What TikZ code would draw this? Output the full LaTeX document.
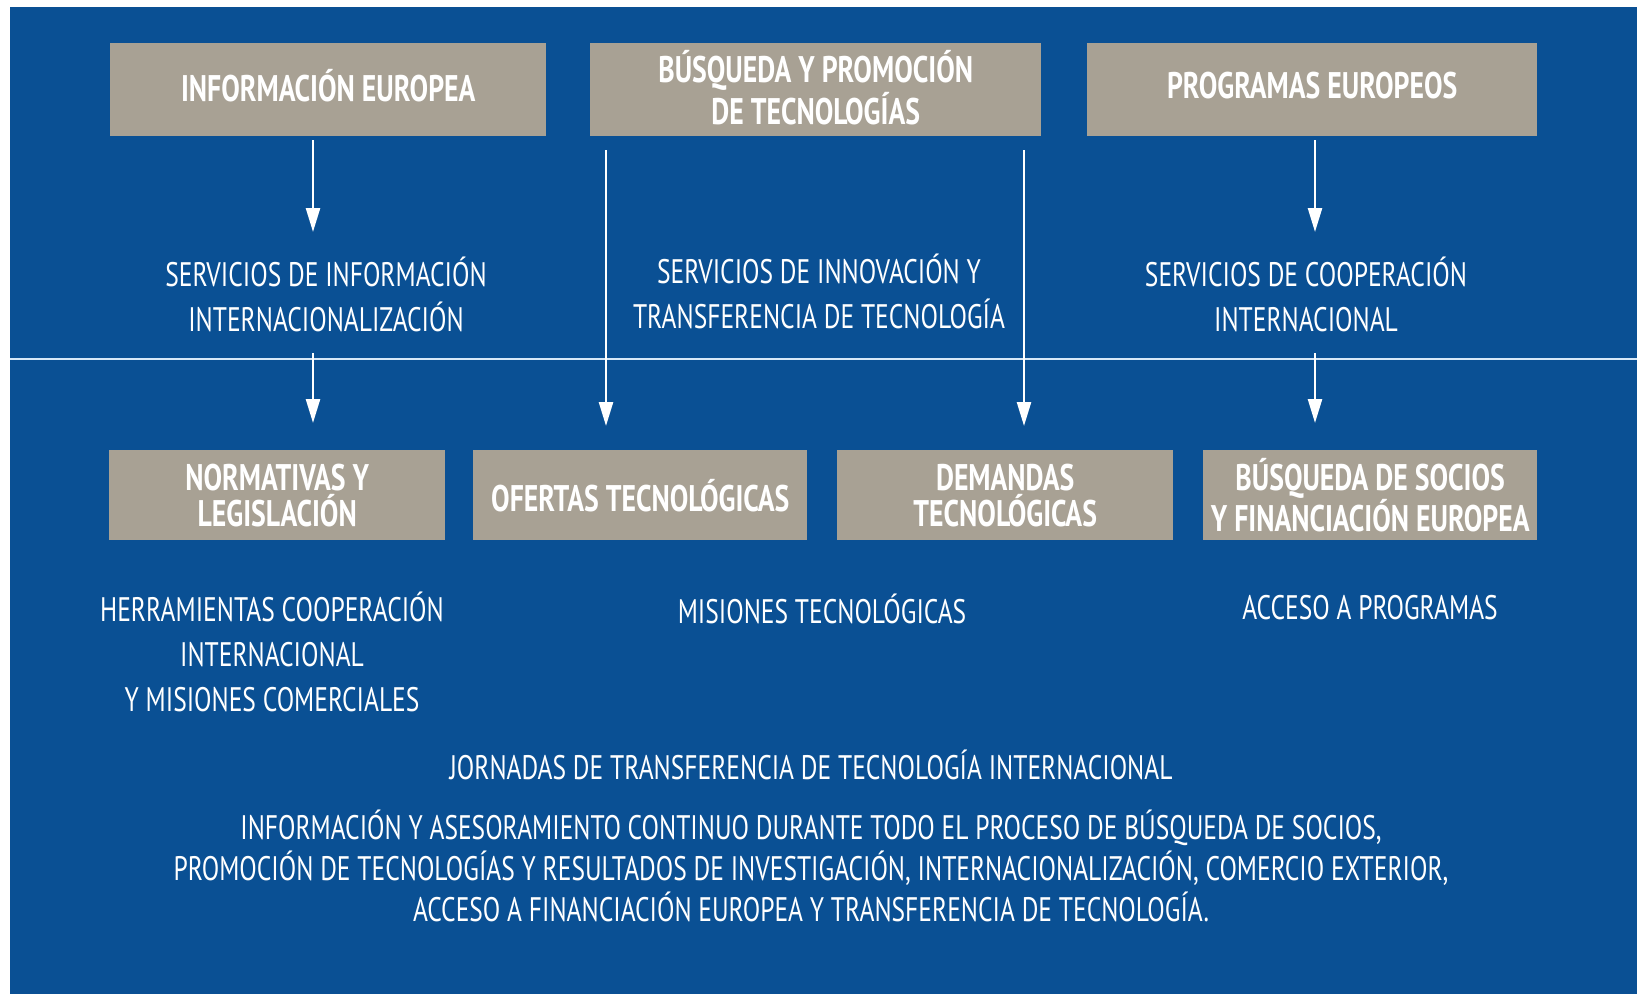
\documentclass[tikz,border=0pt]{standalone}
\usepackage{fontspec}
\usetikzlibrary{arrows.meta}
\newfontfamily\cf{PT Sans}[FakeStretch=0.75]
\definecolor{bgblue}{RGB}{10,80,148}
\definecolor{boxgrey}{RGB}{168,161,148}
\definecolor{linecol}{RGB}{215,232,248}
\tikzset{
  gbox/.style={fill=boxgrey, anchor=north west, inner sep=0pt, text=white, align=center,
    font=\cf\bfseries\fontsize{37}{36}\selectfont},
  gtxt/.style={text=white, align=center, inner sep=0pt,
    font=\cf\bfseries\fontsize{37}{36}\selectfont},
  lbl/.style={text=white, align=center, inner sep=0pt, font=\cf\fontsize{34}{45}\selectfont},
  para/.style={text=white, align=center, inner sep=0pt, font=\cf\fontsize{34}{41}\selectfont},
  arr/.style={draw=white, line width=2.5pt, -{Triangle[width=14pt,length=24pt]}}
}
\begin{document}
\begin{tikzpicture}[x=1pt,y=-1pt]
\useasboundingbox (0,0) rectangle (1637,994);
\fill[white] (0,0) rectangle (1637,994);
\fill[bgblue] (10,7) rectangle (1637,994);
% divider line
\coordinate (hl) at (10,359);
\coordinate (hr) at (1637,359);
\draw[linecol, line width=2pt] (hl) -- (hr);
% top boxes
\node[gbox, minimum width=436pt, minimum height=93pt] (b1) at (110,43) {};
\node[gtxt] (b1t) at ([yshift=4pt]b1.center) {INFORMACIÓN EUROPEA};
\node[gbox, minimum width=451pt, minimum height=93pt] (b2) at (590,43) {};
\node[gtxt] (b2t) at ([yshift=2pt]b2.center) {BÚSQUEDA Y PROMOCIÓN\\DE TECNOLOGÍAS};
\node[gbox, minimum width=450pt, minimum height=93pt] (b3) at (1087,43) {};
\node[gtxt] (b3t) at ([yshift=4pt]b3.center) {PROGRAMAS EUROPEOS};
% bottom boxes
\node[gbox, minimum width=336pt, minimum height=90pt] (n1) at (109,450) {NORMATIVAS Y\\LEGISLACIÓN};
\node[gbox, minimum width=334pt, minimum height=90pt] (n2) at (473,450) {OFERTAS TECNOLÓGICAS};
\node[gbox, minimum width=336pt, minimum height=90pt] (n3) at (837,450) {DEMANDAS\\TECNOLÓGICAS};
\node[gbox, minimum width=334pt, minimum height=90pt] (n4) at (1203,450) {BÚSQUEDA DE SOCIOS\\Y FINANCIACIÓN EUROPEA};
% labels
\node[lbl] (t1) at (326,294) {SERVICIOS DE INFORMACIÓN\\INTERNACIONALIZACIÓN};
\node[lbl] (t2) at (819,291) {SERVICIOS DE INNOVACIÓN Y\\TRANSFERENCIA DE TECNOLOGÍA};
\node[lbl] (t3) at (1306,294) {SERVICIOS DE COOPERACIÓN\\INTERNACIONAL};
\node[lbl] (t4) at (272,652) {HERRAMIENTAS COOPERACIÓN\\INTERNACIONAL\\Y MISIONES COMERCIALES};
\node[lbl] (t5) at (822,609) {MISIONES TECNOLÓGICAS};
\node[lbl] (t6) at (1370,608) {ACCESO A PROGRAMAS};
\node[para] (t7) at (811,765) {JORNADAS DE TRANSFERENCIA DE TECNOLOGÍA INTERNACIONAL};
\node[para] (t8) at (811,866) {INFORMACIÓN Y ASESORAMIENTO CONTINUO DURANTE TODO EL PROCESO DE BÚSQUEDA DE SOCIOS,\\PROMOCIÓN DE TECNOLOGÍAS Y RESULTADOS DE INVESTIGACIÓN, INTERNACIONALIZACIÓN, COMERCIO EXTERIOR,\\ACCESO A FINANCIACIÓN EUROPEA Y TRANSFERENCIA DE TECNOLOGÍA.};
% arrow end coordinates
\coordinate (a1) at (313,232);
\coordinate (a3) at (1315,232);
\coordinate (s1) at (313,353);
\coordinate (s3) at (1315,353);
\coordinate (e1) at (313,423);
\coordinate (e3) at (1315,423);
\coordinate (la) at (606,426);
\coordinate (lb) at (1024,426);
% arrows
\draw[arr, shorten <=4pt] (b1.south -| a1) -- (a1);
\draw[arr, shorten <=4pt] (b3.south -| a3) -- (a3);
\draw[arr] (s1) -- (e1);
\draw[arr] (s3) -- (e3);
\draw[arr, shorten <=14pt] (b2.south -| la) -- (la);
\draw[arr, shorten <=14pt] (b2.south -| lb) -- (lb);
\end{tikzpicture}
\end{document}
